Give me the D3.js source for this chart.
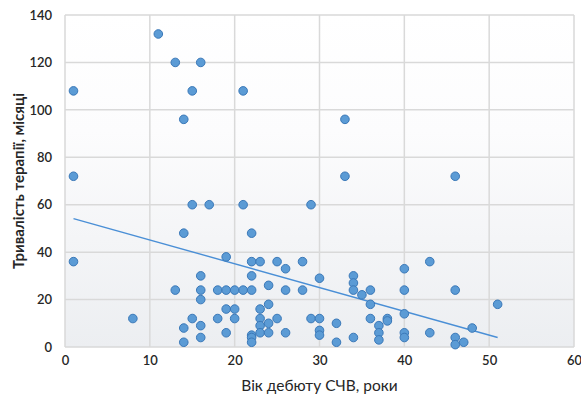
<!DOCTYPE html>
<html>
<head>
<meta charset="utf-8">
<style>
body{margin:0;background:#fff;}
svg text{font-family:Lato,"Open Sans",sans-serif;fill:#262626;}
.tick text{font-size:13px;font-weight:600;}
</style>
</head>
<body>
<svg id="svg"></svg>
<script src="https://cdnjs.cloudflare.com/ajax/libs/d3/7.8.5/d3.min.js"></script>
<script>
// вік дебюту (роки) / тривалість терапії (місяці)
var ageOnset = [1,1,1,8,11,13,13,14,14,14,14,15,15,15,16,16,16,16,16,16,17,18,18,19,19,19,19,20,20,20,21,21,21,
  22,22,22,22,22,22,22,23,23,23,23,23,24,24,24,24,25,25,26,26,26,28,28,29,29,30,30,30,30,32,32,33,33,
  34,34,34,34,35,36,36,36,37,37,37,38,38,40,40,40,40,40,43,43,46,46,46,46,47,48,51]
var duration = [108,72,36,12,132,120,24,96,48,8,2,108,60,12,120,30,24,20,9,4,60,24,12,38,24,16,6,24,16,12,108,60,24,
  48,36,30,24,5,4,2,36,16,12,9,6,26,18,10,6,36,12,33,24,6,36,24,60,12,29,12,7,5,10,2,96,72,
  30,27,24,4,22,24,18,12,9,6,3,12,11,33,24,14,6,4,36,6,72,24,4,1,2,8,18]
var xTicks = [0,10,20,30,40,50,60]
var yTicks = [0,20,40,60,80,100,120,140]
var xTitle = 'Вік дебюту СЧВ, роки'
var yTitle = 'Тривалість терапії, місяці'

var points = ageOnset.map(function(d,i){ return {x:d, y:duration[i]} })

var W = 581, H = 398
var margin = {top:15, right:7, bottom:51, left:65}
var width = W - margin.left - margin.right,
    height = H - margin.top - margin.bottom

var svg = d3.select('#svg').attr('width',W).attr('height',H)

var grad = svg.append('defs').append('linearGradient')
  .attr('id','bg').attr('x1',0).attr('y1',0).attr('x2',0).attr('y2',1)
grad.append('stop').attr('offset','0%').attr('stop-color','#ffffff')
grad.append('stop').attr('offset','35%').attr('stop-color','#fcfcfd')
grad.append('stop').attr('offset','100%').attr('stop-color','#eceef1')

var xScale = d3.scaleLinear().domain([0,60]).range([0,width])
var yScale = d3.scaleLinear().domain([0,140]).range([height,0])

var g = svg.append('g').attr('transform','translate('+margin.left+','+margin.top+')')

g.append('rect').attr('width',width).attr('height',height).attr('fill','url(#bg)')

// grid
g.append('g').selectAll('line').data(xTicks).enter().append('line')
  .attr('x1',function(d){return xScale(d)}).attr('x2',function(d){return xScale(d)})
  .attr('y1',0).attr('y2',height)
  .attr('stroke','#d9d9d9').attr('stroke-width',1.5)
g.append('g').selectAll('line').data(yTicks).enter().append('line')
  .attr('y1',function(d){return yScale(d)}).attr('y2',function(d){return yScale(d)})
  .attr('x1',0).attr('x2',width)
  .attr('stroke','#d9d9d9').attr('stroke-width',1.5)

var xAxis = d3.axisBottom(xScale).tickValues(xTicks).tickSize(0).tickPadding(9)
var yAxis = d3.axisLeft(yScale).tickValues(yTicks).tickSize(0).tickPadding(13)
g.append('g').attr('transform','translate(0,'+height+')').call(xAxis)
  .call(function(s){ s.select('.domain').remove() })
g.append('g').call(yAxis)
  .call(function(s){ s.select('.domain').remove() })

// trend line (least squares)
var mx = d3.mean(points,function(d){return d.x}), my = d3.mean(points,function(d){return d.y})
var sxy = d3.sum(points,function(d){return (d.x-mx)*(d.y-my)})
var sxx = d3.sum(points,function(d){return (d.x-mx)*(d.x-mx)})
var slope = sxy/sxx, icpt = my - slope*mx
var xExt = d3.extent(points,function(d){return d.x})
g.append('line')
  .attr('x1',xScale(xExt[0])).attr('y1',yScale(icpt+slope*xExt[0]))
  .attr('x2',xScale(xExt[1])).attr('y2',yScale(icpt+slope*xExt[1]))
  .attr('stroke','#4a8fd6').attr('stroke-width',1.4)

g.append('g').selectAll('circle').data(points).enter().append('circle')
  .attr('cx',function(d){return xScale(d.x)})
  .attr('cy',function(d){return yScale(d.y)})
  .attr('r',4.3)
  .attr('fill','#5b9bd5').attr('stroke','#3a78b8').attr('stroke-width',1)

svg.append('text').attr('x',margin.left+width/2).attr('y',391)
  .attr('text-anchor','middle').style('font-size','15.5px').text(xTitle)
svg.append('text').attr('transform','translate(24,'+(margin.top+height/2)+') rotate(-90)')
  .attr('text-anchor','middle').style('font-size','15px').style('font-weight','700').text(yTitle)
</script>
</body>
</html>
